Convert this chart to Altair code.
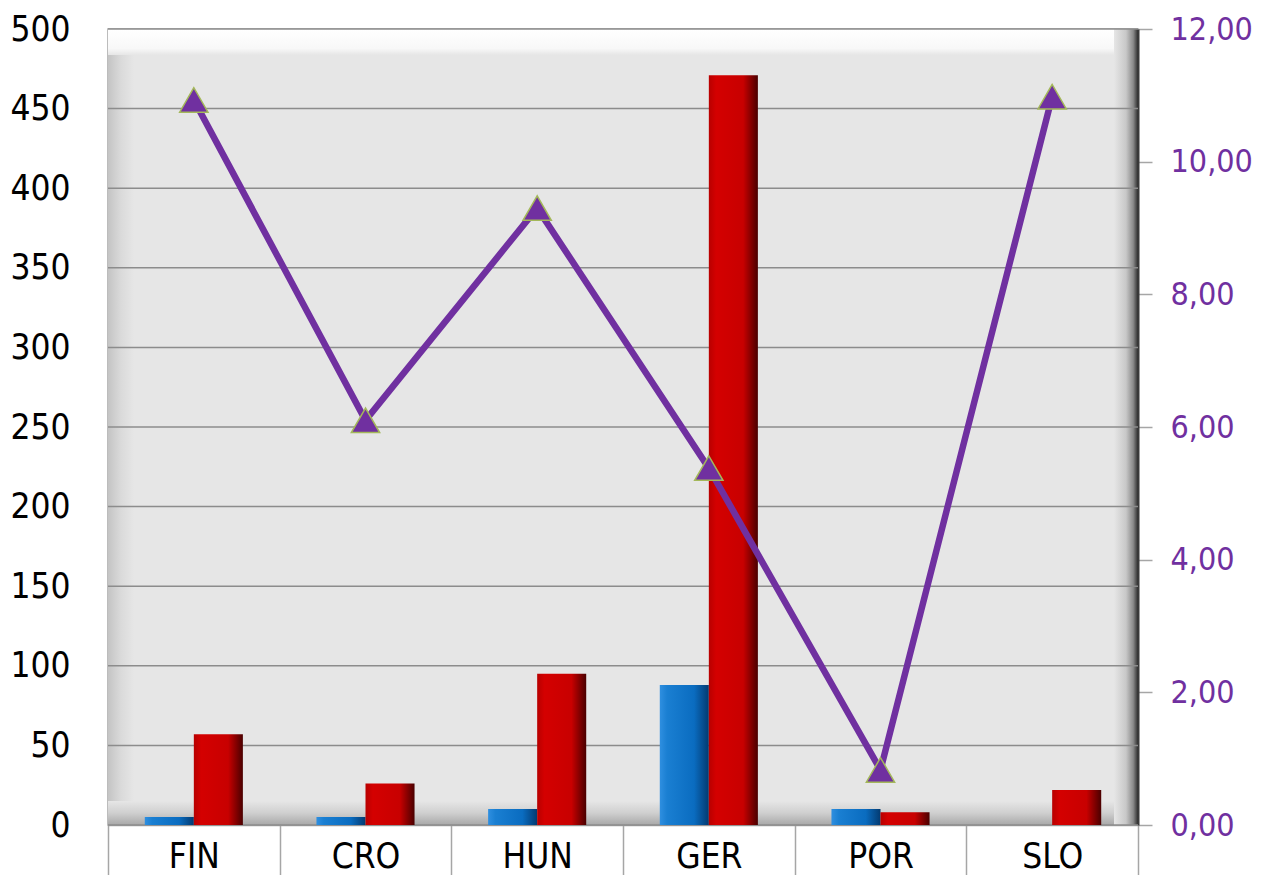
import altair as alt
import pandas as pd

# ---- data ----
categories = ["FIN", "CRO", "HUN", "GER", "POR", "SLO"]
series_names = ["Serie 1", "Serie 2"]
series_blue = [5, 5, 10, 88, 10, 0]
series_red = [57, 26, 95, 471, 8, 22]
series_line = [10.93, 6.10, 9.30, 5.38, 0.83, 10.98]
left_ticks = [0, 50, 100, 150, 200, 250, 300, 350, 400, 450, 500]
right_ticks = [0, 2, 4, 6, 8, 10, 12]

W, H = 1030, 796
FONT = "DejaVu Sans Condensed, Liberation Sans Narrow, sans-serif"
PURPLE = "#7030a0"

bars_df = pd.DataFrame({
    "cat": categories * 2,
    "series": [series_names[0]] * len(categories) + [series_names[1]] * len(categories),
    "value": series_blue + series_red,
})
line_df = pd.DataFrame({"cat": categories, "value": series_line})
grid_df = pd.DataFrame({"value": left_ticks})
dummy = pd.DataFrame({"d": [0]})

x_axis = alt.Axis(title=None, tickBand="extent", tickSize=58, tickColor="#a6a6a6",
                  tickWidth=1.5, domainColor="#a6a6a6", domainWidth=1.5,
                  labelPadding=-44, labelFontSize=35, labelFont=FONT,
                  labelColor="black", labelAngle=0)
x_enc = alt.X("cat:N", sort=categories,
              scale=alt.Scale(domain=categories, paddingInner=0, paddingOuter=0),
              axis=x_axis)

left_axis = alt.Axis(title=None, values=left_ticks, grid=False, ticks=False, domain=False,
                     labelFontSize=35, labelFont=FONT, labelColor="black", labelPadding=38)
left_scale = alt.Scale(domain=[0, 500], nice=False, zero=True)

right_axis = alt.Axis(title=None, orient="right", values=right_ticks, grid=False,
                      labelExpr="replace(format(datum.value, '.2f'), '.', ',')",
                      labelColor=PURPLE, labelFontSize=32, labelFont=FONT,
                      tickColor="#a6a6a6", tickSize=14, tickWidth=1.5,
                      domainColor="#3a3a3a", domainWidth=2, labelPadding=18)
right_scale = alt.Scale(domain=[0, 12], nice=False, zero=True)

def grad_h(stops):
    return alt.LinearGradient(gradient="linear", x1=0, x2=1, y1=0, y2=0,
                              stops=[alt.GradientStop(color=c, offset=o) for o, c in stops])

def grad_v(stops):
    return alt.LinearGradient(gradient="linear", x1=0, x2=0, y1=0, y2=1,
                              stops=[alt.GradientStop(color=c, offset=o) for o, c in stops])

# ---- bevel frame decoration ----
bevel_top = alt.Chart(dummy).mark_rect(
    fill=grad_v([(0, "#ffffff"), (0.75, "#f8f8f8"), (1, "#e6e6e6")])
).encode(x=alt.value(0), x2=alt.value(W), y=alt.value(0), y2=alt.value(26))
bevel_left = alt.Chart(dummy).mark_rect(
    fill=grad_h([(0, "#c4c4c4"), (0.5, "#dadada"), (1, "#e6e6e6")])
).encode(x=alt.value(0), x2=alt.value(26), y=alt.value(26), y2=alt.value(H - 24))
bevel_bottom = alt.Chart(dummy).mark_rect(
    fill=grad_v([(0, "#e6e6e6"), (0.5, "#cfcfcf"), (1, "#a8a8a8")])
).encode(x=alt.value(0), x2=alt.value(W), y=alt.value(H - 24), y2=alt.value(H))
bevel_right = alt.Chart(dummy).mark_rect(
    fill=grad_h([(0, "#e6e6e6"), (0.5, "#c8c8c8"), (0.8, "#8a8a8a"), (1, "#2e2e2e")])
).encode(x=alt.value(W - 24), x2=alt.value(W), y=alt.value(0), y2=alt.value(H))

grid = alt.Chart(grid_df).mark_rule(color="#8c8c8c", strokeWidth=1.5).encode(
    y=alt.Y("value:Q", scale=left_scale, axis=left_axis)
)

xoff = alt.XOffset("series:N", scale=alt.Scale(domain=series_names, paddingInner=0, paddingOuter=0.75))

bar_blue = alt.Chart(bars_df).transform_filter(
    alt.datum.series == series_names[0]
).mark_bar(
    fill=grad_h([(0, "#2f8fe0"), (0.15, "#1a7fd2"), (0.7, "#0a6cc0"), (1, "#033a70")])
).encode(
    x=x_enc, xOffset=xoff,
    y=alt.Y("value:Q", scale=left_scale, axis=left_axis),
)

bar_red = alt.Chart(bars_df).transform_filter(
    alt.datum.series == series_names[1]
).mark_bar(
    fill=grad_h([(0, "#b80000"), (0.15, "#d40000"), (0.7, "#c80000"), (1, "#4a0000")])
).encode(
    x=x_enc, xOffset=xoff,
    y=alt.Y("value:Q", scale=left_scale, axis=left_axis),
)

left_layer = alt.layer(bevel_top, bevel_left, bevel_bottom, bevel_right, grid, bar_blue, bar_red)

line = alt.Chart(line_df).mark_line(color=PURPLE, strokeWidth=6.5).encode(
    x=x_enc,
    y=alt.Y("value:Q", scale=right_scale, axis=right_axis),
)
points = alt.Chart(line_df).mark_point(
    shape="triangle-up", filled=True, fill=PURPLE, stroke="#a4b85a",
    strokeWidth=1.5, size=800, opacity=1
).encode(
    x=x_enc,
    y=alt.Y("value:Q", scale=right_scale, axis=right_axis),
)
right_layer = alt.layer(line, points)

chart = alt.layer(left_layer, right_layer).resolve_scale(y="independent").properties(
    width=W, height=H,
    autosize=alt.AutoSizeParams(type="none"),
    padding={"left": 100, "top": 21, "right": 119, "bottom": 50},
).configure_view(fill="#e6e6e6", stroke="#a6a6a6", strokeWidth=1.5)

chart.save("out.html", embed_options={"renderer": "svg", "actions": False})
